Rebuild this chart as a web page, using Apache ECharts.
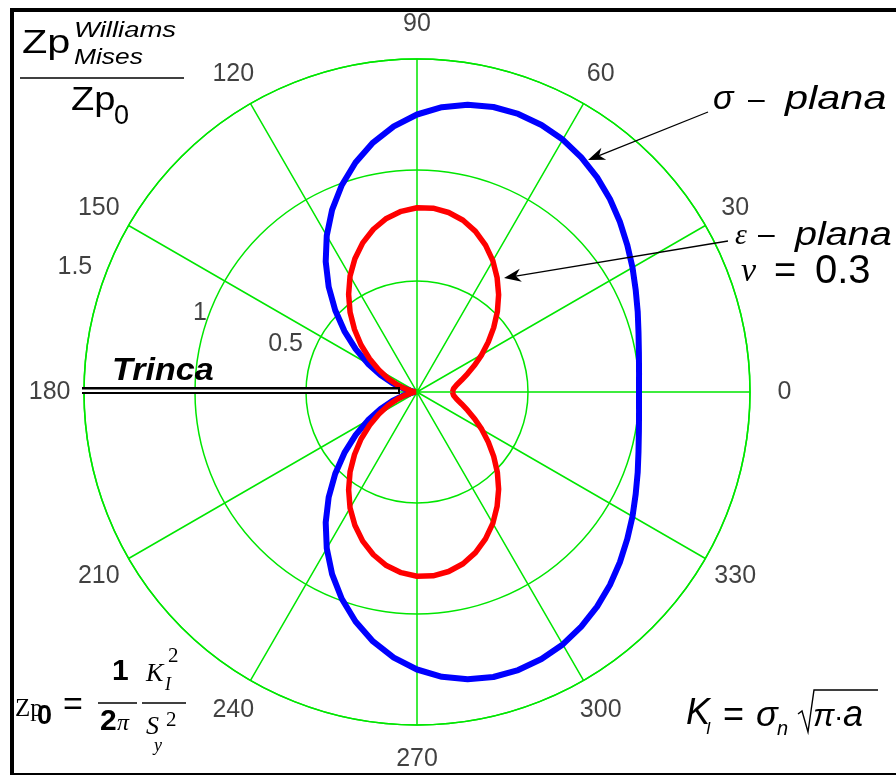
<!DOCTYPE html>
<html><head><meta charset="utf-8">
<script src="https://cdn.jsdelivr.net/npm/echarts@6/dist/echarts.min.js"></script>
<style>html,body{margin:0;padding:0;background:#fff}#c{width:896px;height:776px}</style>
</head><body><div id="c"></div>
<script>
// ---- data ----
const angles = [0,5,10,15,20,25,30,35,40,45,50,55,60,65,70,75,80,85,90,95,100,105,110,115,120,125,130,135,140,145,150,155,160,165,170,175,180,
185,190,195,200,205,210,215,220,225,230,235,240,245,250,255,260,265,270,275,280,285,290,295,300,305,310,315,320,325,330,335,340,345,350,355,360];
const sigmaPlana = [1.000,1.004,1.015,1.033,1.058,1.087,1.121,1.156,1.193,1.229,1.262,1.290,1.313,1.327,1.333,1.329,1.314,1.288,1.250,1.201,1.141,1.070,0.991,0.905,0.813,0.717,0.619,0.521,0.427,0.337,0.255,0.181,0.118,0.067,0.030,0.008,0.000,
0.008,0.030,0.067,0.118,0.181,0.255,0.337,0.427,0.521,0.619,0.717,0.813,0.905,0.991,1.070,1.141,1.201,1.250,1.288,1.314,1.329,1.333,1.327,1.313,1.290,1.262,1.229,1.193,1.156,1.121,1.087,1.058,1.033,1.015,1.004,1.000];
const epsPlana = [0.160,0.165,0.181,0.208,0.243,0.287,0.337,0.392,0.451,0.512,0.572,0.629,0.683,0.730,0.770,0.801,0.821,0.831,0.830,0.817,0.794,0.759,0.715,0.662,0.603,0.537,0.469,0.398,0.329,0.261,0.198,0.142,0.093,0.053,0.024,0.006,0.000,
0.006,0.024,0.053,0.093,0.142,0.198,0.261,0.329,0.398,0.469,0.537,0.603,0.662,0.715,0.759,0.794,0.817,0.830,0.831,0.821,0.801,0.770,0.730,0.683,0.629,0.572,0.512,0.451,0.392,0.337,0.287,0.243,0.208,0.181,0.165,0.160];
const angleTicks = [0,30,60,90,120,150,180,210,240,270,300,330];
const radiusTicks = [0.5,1,1.5];

// ---- layout / style ----
const CX = 417, CY = 392, R = 333;
const GREEN = '#00e600';
const SANS = '"Liberation Sans", Arial, sans-serif';
const SERIF = '"Liberation Serif", "Times New Roman", serif';
const ANGLE_LABEL_R = 1.655;
const ringLabelPos = [0.63, 1.04, 1.64];
const RING_LABEL_ANGLE = 160;

function T(text, x, y, size, o) {
  o = o || {};
  const font = [o.style, o.weight, size + 'px', o.family || SANS].filter(Boolean).join(' ');
  return { type: 'text', x: x, y: y, scaleX: o.sx || 1, z: 100,
    style: { text: text, x: 0, y: 0, fill: o.fill || '#000', font: font,
      textAlign: o.align || 'left', align: o.align || 'left',
      textVerticalAlign: 'middle', verticalAlign: 'middle' } };
}
function rect(x, y, w, h, fill, z) {
  return { type: 'rect', z: z || 90, shape: { x: x, y: y, width: w, height: h }, style: { fill: fill } };
}
function hline(x1, x2, y, w) {
  return { type: 'line', z: 100, shape: { x1: x1, y1: y, x2: x2, y2: y }, style: { stroke: '#000', lineWidth: w || 1.5 } };
}
function arrow(x1, y1, x2, y2) {
  const dx = x2 - x1, dy = y2 - y1, L = Math.hypot(dx, dy);
  const ux = dx / L, uy = dy / L, nx = -uy, ny = ux;
  const hl = 17, hw = 6.5;
  const bx = x2 - ux * hl, by = y2 - uy * hl;
  const mx = x2 - ux * hl * 0.7, my = y2 - uy * hl * 0.7;
  return [
    { type: 'line', z: 100, shape: { x1: x1, y1: y1, x2: mx, y2: my }, style: { stroke: '#000', lineWidth: 1.3 } },
    { type: 'polygon', z: 100, shape: { points: [[x2, y2], [bx + nx * hw, by + ny * hw], [mx, my], [bx - nx * hw, by - ny * hw]] }, style: { fill: '#000' } }
  ];
}

const sigData = angles.map((a, i) => [sigmaPlana[i], a]);
const epsData = angles.map((a, i) => [epsPlana[i], a]);
const angleLabelData = angleTicks.map(a => ({ name: String(a), value: [ANGLE_LABEL_R, a] }));
const ringLabelData = radiusTicks.map((v, i) => ({ name: String(v), value: [ringLabelPos[i], RING_LABEL_ANGLE] }));

const labelSeries = (data, size) => ({
  type: 'scatter', coordinateSystem: 'polar', clip: false, silent: true, z: 5,
  symbol: 'circle', symbolSize: 1, itemStyle: { color: 'rgba(0,0,0,0)' },
  label: { show: true, position: 'inside', formatter: p => p.name, fontSize: size, fontFamily: SANS, color: '#111' },
  data: data
});

const graphics = [
  // frame
  rect(10, 8, 886, 4, '#000'), rect(10, 8, 4, 767, '#000'), rect(10, 773, 886, 2, '#000'),
  // crack
  rect(82, 387, 318, 7, '#000', 95), rect(82, 389.5, 316, 2.5, '#fff', 96),
  T('Trinca', 112, 371, 31, { style: 'italic', weight: 'bold', sx: 1.1 }),
  // title fraction
  T('Zp', 22, 44, 34, { sx: 1.22 }),
  T('Williams', 74, 31, 22, { style: 'italic', sx: 1.25 }),
  T('Mises', 74, 58, 22, { style: 'italic', sx: 1.2 }),
  hline(20, 184, 78, 1.5),
  T('Zp', 71, 101, 34, { sx: 1.12 }),
  T('0', 114, 117, 27),
  // bottom-left formula
  T('Zp', 15, 709, 25, { family: SERIF }),
  T('0', 37, 717, 27, { weight: 'bold' }),
  T('=', 63, 706, 34),
  hline(98, 137, 703, 1.5),
  T('1', 112, 672, 30, { weight: 'bold' }),
  T('2', 100, 722, 30, { weight: 'bold' }),
  T('π', 117, 724, 24, { family: SERIF, style: 'italic' }),
  hline(142, 186, 703, 1.5),
  T('K', 146, 674, 26, { family: SERIF, style: 'italic' }),
  T('2', 168, 656, 21, { family: SERIF }),
  T('I', 165, 685, 18, { family: SERIF, style: 'italic' }),
  T('S', 146, 727, 26, { family: SERIF, style: 'italic' }),
  T('2', 166, 720, 21, { family: SERIF }),
  T('y', 154, 746, 18, { family: SERIF, style: 'italic' }),
  // bottom-right formula
  T('K', 686, 714, 36, { style: 'italic' }),
  T('I', 706, 729, 17, { style: 'italic' }),
  T('=', 723, 716, 36),
  T('σ', 756, 716, 36, { style: 'italic' }),
  T('n', 777, 729, 20, { style: 'italic' }),
  { type: 'polyline', z: 100, shape: { points: [[798, 714], [802, 711], [808, 732], [814, 690], [878, 690]] }, style: { stroke: '#000', lineWidth: 1.4, fill: null } },
  T('π', 813, 717, 32, { style: 'italic' }),
  T('·', 834, 718, 28),
  T('a', 843, 716, 36, { style: 'italic' }),
  // right labels
  T('σ', 713, 100, 34, { style: 'italic' }),
  T('–', 748, 101, 30),
  T('plana', 785, 100, 34, { style: 'italic', sx: 1.22 }),
  T('ε', 735, 236, 30, { family: SERIF, style: 'italic' }),
  T('–', 758, 236, 30),
  T('plana', 795, 236, 33, { style: 'italic', sx: 1.2 }),
  T('ν', 741, 272, 34, { family: SERIF, style: 'italic' }),
  T('=', 774, 273, 38),
  T('0.3', 815, 272, 40)
].concat(arrow(708, 112, 588, 160), arrow(728, 241, 504, 278));

const chart = echarts.init(document.getElementById('c'), null, { renderer: 'canvas' });
chart.setOption({
  backgroundColor: '#fff',
  animation: false,
  polar: { center: [CX, CY], radius: R },
  angleAxis: {
    type: 'value', min: 0, max: 360, interval: 30, startAngle: 0, clockwise: false,
    axisLine: { show: true, lineStyle: { color: GREEN, width: 1.5 } },
    axisTick: { show: false }, axisLabel: { show: false },
    splitLine: { show: true, lineStyle: { color: GREEN, width: 1.5 } }
  },
  radiusAxis: {
    type: 'value', min: 0, max: 1.5, interval: 0.5,
    axisLine: { show: false }, axisTick: { show: false }, axisLabel: { show: false },
    splitLine: { show: true, lineStyle: { color: GREEN, width: 1.5 } }
  },
  series: [
    { type: 'line', coordinateSystem: 'polar', data: sigData, showSymbol: false, smooth: false, z: 10,
      lineStyle: { color: '#0000ff', width: 6 }, silent: true },
    { type: 'line', coordinateSystem: 'polar', data: epsData, showSymbol: false, smooth: false, z: 11,
      lineStyle: { color: '#ff0000', width: 5.5 }, silent: true },
    labelSeries(angleLabelData, 25),
    labelSeries(ringLabelData, 25)
  ],
  graphic: graphics
});
</script></body></html>
